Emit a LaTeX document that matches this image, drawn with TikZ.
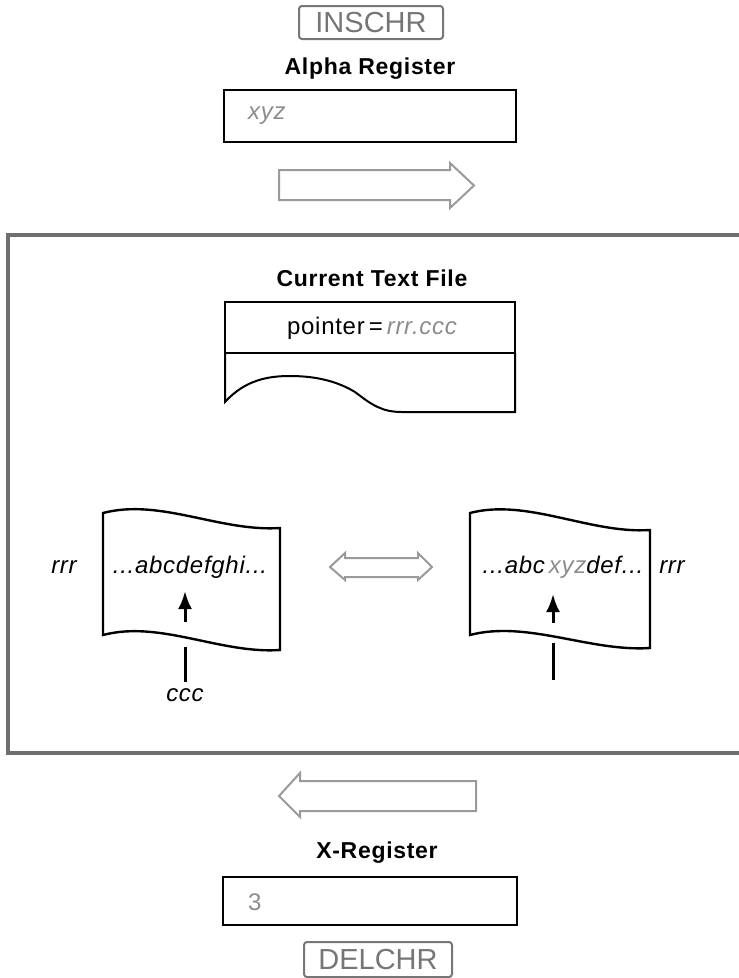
\documentclass[tikz,border=0pt]{standalone}
\usepackage{fontspec}
\setmainfont{Liberation Sans}
\newfontfamily\trk[LetterSpace=3]{Liberation Sans}
\usetikzlibrary{arrows.meta}
\definecolor{gtext}{HTML}{8C8C8C}
\definecolor{ktext}{HTML}{767676}
\definecolor{gline}{HTML}{9A9A9A}
\definecolor{fline}{HTML}{6E6E6E}
\tikzset{
  keybox/.style={draw=ktext, line width=2pt, rounded corners=3pt, text=ktext, minimum width=144pt, minimum height=33pt, inner sep=0pt, font=\fontsize{29}{30}\selectfont},
  title/.style={anchor=base, inner sep=0pt, font=\trk\bfseries\fontsize{23}{26}\selectfont},
  body/.style={anchor=base, inner sep=0pt, font=\trk\fontsize{24}{28}\selectfont},
  ital/.style={body, font=\trk\itshape\fontsize{24}{28}\selectfont},
  regbox/.style={draw=black, line width=2.6pt},
  blockarrow/.style={draw=gline, line width=2pt, line join=miter},
  sheet/.style={draw=black, line width=2.4pt, line join=miter},
  ptr/.style={line width=3pt, -{Latex[length=18pt,width=14pt]}},
  stem/.style={line width=3pt}
}
\begin{document}
\begin{tikzpicture}[x=1pt,y=-1pt]
\useasboundingbox (0,0) rectangle (739,978);
% frame
\draw[draw=fline, line width=4pt] (760,235) -- (8,235) -- (8,753) -- (760,753);
% INSCHR
\node[keybox] (ins) at (371,22.5) {INSCHR};
\node[title] (alpha) at (370,74) {Alpha Register};
\draw[regbox] (224,90) rectangle (516,142);
\node[ital, anchor=base west, text=gtext] (xyz) at (248,119) {xyz};
% right block arrow
\draw[blockarrow] (279,170) -- (450,170) -- (450,163) -- (474,185.5) -- (450,208) -- (450,200) -- (279,200) -- cycle;
% current text file
\node[title] (ctf) at (372,286) {Current Text File};
\draw[sheet, line width=2pt] (225,353) -- (225,302) -- (515,302) -- (515,353) -- cycle;
\draw[sheet, line width=2pt] (225,353) -- (225,402) .. controls (245,380) and (268,376) .. (290,376) .. controls (320,376) and (340,383) .. (355,392) .. controls (372,405) and (382,412) .. (402,412) -- (515,412) -- (515,353);
\node[body] (ptrtext) at (372,334) {pointer{\,}={\,}\textcolor{gtext}{\itshape rrr.ccc}};
% left sheet
\draw[sheet] (103,513) .. controls (160,498) and (220,532) .. (280,528) -- (280,650) .. controls (220,654) and (160,620) .. (103,635) -- cycle;
\node[ital] (ltext) at (190,573) {...abcdefghi...};
\node[ital] (lrrr) at (64,573) {rrr};
\coordinate (la1) at (185,622);
\coordinate (la2) at (185,591);
\draw[ptr] (la1) -- (la2);
\coordinate (ls1) at (185,647);
\coordinate (ls2) at (185,682);
\draw[stem] (ls1) -- (ls2);
\node[ital] (lccc) at (185,701) {ccc};
% double arrow
\draw[blockarrow] (330,567) -- (345,553) -- (345,558) -- (418,558) -- (418,553) -- (432,567) -- (418,580) -- (418,577) -- (345,577) -- (345,580) -- cycle;
% right sheet
\draw[sheet] (470,513) .. controls (527,498) and (590,534) .. (650,530) -- (650,648) .. controls (590,652) and (527,620) .. (470,635) -- cycle;
\node[ital] (rtext) at (563,573) {...abc\,\textcolor{gtext}{xyz}def...};
\node[ital] (rrrr) at (672,573) {rrr};
\coordinate (ra1) at (553,623);
\coordinate (ra2) at (553,594);
\draw[ptr] (ra1) -- (ra2);
\coordinate (rs1) at (553,643);
\coordinate (rs2) at (553,680);
\draw[stem] (rs1) -- (rs2);
% left block arrow
\draw[blockarrow] (279,796) -- (300,773) -- (300,781) -- (476,781) -- (476,811) -- (300,811) -- (300,817) -- cycle;
% X register
\node[title] (xreg) at (377,858) {X-Register};
\draw[regbox] (223,877) rectangle (517,925);
\node[body, anchor=base west, text=gtext] (three) at (248,910) {3};
\node[keybox, minimum width=148pt, minimum height=35pt] (del) at (378,959.5) {DELCHR};
\end{tikzpicture}
\end{document}
